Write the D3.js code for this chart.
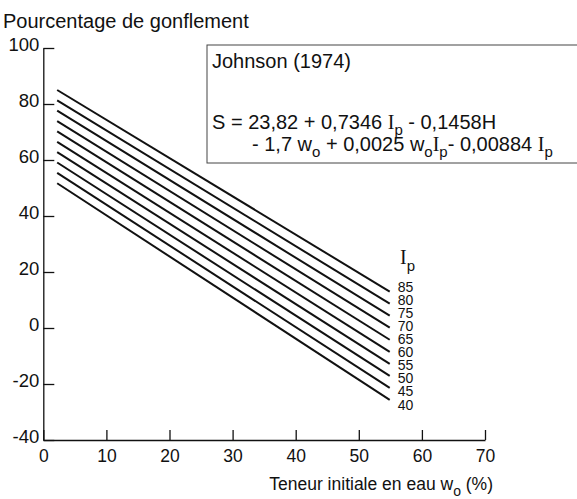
<!DOCTYPE html>
<html>
  <head>
    <meta charset="utf-8">
    <title>Johnson 1974</title>
    <script src="https://cdn.jsdelivr.net/npm/d3@7/dist/d3.min.js"></script>
    <style>
      body { margin: 0; background: #fff; }
      svg text { font-family: "Liberation Sans", Arial, Helvetica, sans-serif; fill: #111; }
      svg .serif { font-family: "Liberation Serif", "Times New Roman", serif; }
    </style>
  </head>
  <body>
    <svg id="chart" width="577" height="499"></svg>
    <script>
      // indice de plasticite de chaque droite
      var ipValues = [85, 80, 75, 70, 65, 60, 55, 50, 45, 40];
      // teneur en eau au debut et a la fin des droites
      var wStart = 2.2;
      var wEnd = 54.9;
      // pourcentage de gonflement lu au debut / a la fin
      var sStart = [85.0, 81.3, 77.6, 73.9, 70.2, 66.5, 62.8, 59.1, 55.4, 51.7];
      var sEnd = [13.0, 8.7, 4.4, 0.1, -4.2, -8.5, -12.8, -17.1, -21.4, -25.7];

      var xTicks = [0, 10, 20, 30, 40, 50, 60, 70];
      var yTicks = [-40, -20, 0, 20, 40, 60, 80, 100];

      var svg = d3.select("#chart");

      var x = d3.scaleLinear().domain([0, 70]).range([43.3, 485]);
      var y = d3.scaleLinear().domain([-40, 100]).range([440, 48]);

      // axes
      var yAxis = d3.axisLeft(y).tickValues(yTicks).tickSizeInner(-11).tickSizeOuter(0)
        .tickPadding(4).tickFormat(function(d) { return String(d); });
      var gy = svg.append("g").attr("transform", "translate(" + x(0) + ",0)").call(yAxis);
      gy.selectAll("text").attr("font-size", 18.5).attr("dy", "0.14em")
        .style("font-family", "Liberation Sans, Arial, sans-serif");

      var xAxis = d3.axisBottom(x).tickValues(xTicks).tickSizeInner(-10).tickSizeOuter(0)
        .tickPadding(10).tickFormat(function(d) { return String(d); });
      var gx = svg.append("g").attr("transform", "translate(0," + y(-40) + ")").call(xAxis);
      gx.selectAll("text").attr("font-size", 17.5)
        .style("font-family", "Liberation Sans, Arial, sans-serif");

      svg.selectAll(".domain, .tick line").attr("stroke", "#111").attr("stroke-width", 1.3);

      // droites
      var line = d3.line().x(function(d) { return x(d[0]); }).y(function(d) { return y(d[1]); });
      svg.append("g").selectAll("path")
        .data(ipValues)
        .join("path")
        .attr("d", function(d, i) { return line([[wStart, sStart[i]], [wEnd, sEnd[i]]]); })
        .attr("fill", "none")
        .attr("stroke", "#111")
        .attr("stroke-width", 2);

      // etiquettes Ip
      var lab = svg.append("g").attr("font-size", 14);
      lab.selectAll("text")
        .data(ipValues)
        .join("text")
        .attr("x", x(wEnd) + 8)
        .attr("y", function(d, i) { return y(sEnd[0]) - 5 + i * 13.1; })
        .attr("dy", "0.36em")
        .text(function(d) { return d; });

      var ipT = svg.append("text").attr("x", 400).attr("y", 264).attr("font-size", 20);
      ipT.append("tspan").attr("class", "serif").text("I");
      ipT.append("tspan").attr("font-size", 15).attr("dy", 7).text("p");

      // titres
      svg.append("text").attr("x", 3).attr("y", 28).attr("font-size", 20)
        .text("Pourcentage de gonflement");

      var xl = svg.append("text").attr("x", 493).attr("y", 490).attr("font-size", 17.5)
        .attr("text-anchor", "end");
      xl.append("tspan").text("Teneur initiale en eau w");
      xl.append("tspan").attr("font-size", 14).attr("dy", 6).text("o");
      xl.append("tspan").attr("dy", -6).text(" (%)");

      // cadre equation (ouvert a droite)
      svg.append("rect").attr("x", 207).attr("y", 45).attr("width", 380).attr("height", 118)
        .attr("fill", "#fff").attr("stroke", "#444").attr("stroke-width", 1);

      var eq = svg.append("g").attr("font-size", 20);
      eq.append("text").attr("x", 212).attr("y", 68).text("Johnson (1974)");

      function sub(t, s) {
        t.append("tspan").attr("font-size", 15).attr("dy", 6).text(s);
      }

      var l1 = eq.append("text").attr("x", 212).attr("y", 129);
      l1.append("tspan").text("S = 23,82 + 0,7346 ");
      l1.append("tspan").attr("class", "serif").text("I");
      sub(l1, "p");
      l1.append("tspan").attr("dy", -6).text(" - 0,1458H");

      var l2 = eq.append("text").attr("x", 252).attr("y", 151);
      l2.append("tspan").text("- 1,7 w");
      sub(l2, "o");
      l2.append("tspan").attr("dy", -6).text(" + 0,0025 w");
      sub(l2, "o");
      l2.append("tspan").attr("dy", -6).attr("class", "serif").text("I");
      sub(l2, "p");
      l2.append("tspan").attr("dy", -6).text("- 0,00884 ");
      l2.append("tspan").attr("class", "serif").text("I");
      sub(l2, "p");
    </script>
  </body>
</html>
